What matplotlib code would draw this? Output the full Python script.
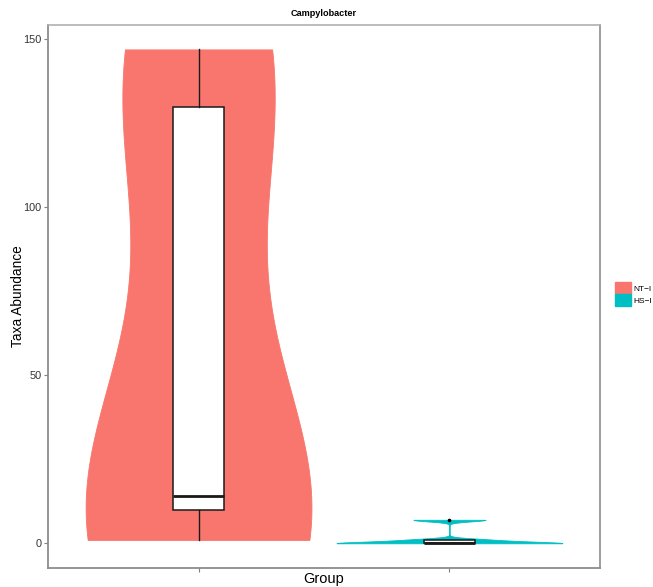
import numpy as np
import matplotlib
matplotlib.use("Agg")
import matplotlib.pyplot as plt
from matplotlib.patches import Patch

plt.rcParams["font.family"] = ["Liberation Sans", "DejaVu Sans"]

# Data
groups = ["NT-I", "HS-I"]
legend_labels = ["NT\u2212I", "HS\u2212I"]
colors = ["#F8766D", "#00BFC4"]
nt_values = [1, 10, 14, 130, 147]
hs_values = [0, 0, 0, 1, 7]
y_ticks = [0, 50, 100, 150]
title = "Campylobacter"


def bw_nrd0(x):
    x = np.asarray(x, float)
    sd = x.std(ddof=1)
    q1, q3 = np.percentile(x, [25, 75])
    iqr = (q3 - q1) / 1.34
    lo = min(sd, iqr) if iqr > 0 else sd
    return 0.9 * lo * len(x) ** -0.2


def kde(x, grid):
    x = np.asarray(x, float)
    bw = bw_nrd0(x)
    d = (grid[:, None] - x[None, :]) / bw
    return np.exp(-0.5 * d ** 2).sum(axis=1) / (len(x) * bw * np.sqrt(2 * np.pi))


W, H = 653, 587
fig = plt.figure(figsize=(W / 100, H / 100), dpi=100)
ax = fig.add_axes([48 / W, (H - 568) / H, (600 - 48) / W, (568 - 24.7) / H])

series = [nt_values, hs_values]
positions = [1, 2]

# Violins (trimmed, each scaled to the same maximum width)
for pos, vals, col in zip(positions, series, colors):
    grid = np.linspace(min(vals), max(vals), 512)
    dens = kde(vals, grid)
    half = 0.45 * dens / dens.max()
    ax.fill_betweenx(grid, pos - half, pos + half, facecolor=col,
                     edgecolor=col, linewidth=0.6, zorder=1)

# Boxplots on top
ax.boxplot(series, positions=positions, widths=0.2, patch_artist=True,
           whis=1.5, manage_ticks=False,
           boxprops=dict(facecolor="white", edgecolor="#1a1a1a", linewidth=1.1),
           medianprops=dict(color="#1a1a1a", linewidth=2.0),
           whiskerprops=dict(color="#1a1a1a", linewidth=1.0),
           capprops=dict(linewidth=0),
           flierprops=dict(marker="o", markersize=1.6, markerfacecolor="black",
                           markeredgecolor="black"),
           zorder=3)

ax.set_xlim(0.4, 2.6)
ax.set_ylim(-7.35, 154.35)
ax.set_xticks(positions)
ax.set_xticklabels(["", ""])
ax.set_yticks(y_ticks)
ax.set_yticklabels([str(t) for t in y_ticks], fontsize=7.8, color="#333333")
ax.tick_params(axis="both", length=3, width=0.8, color="#7f7f7f", pad=1.5)

for side, col, lw in [("left", "#8c8c8c", 1.3), ("bottom", "#8c8c8c", 1.3),
                      ("top", "#b0b0b0", 1.2), ("right", "#8c8c8c", 1.2)]:
    ax.spines[side].set_color(col)
    ax.spines[side].set_linewidth(lw)

ax.set_title(title, fontsize=6.6, fontweight="bold", pad=6)
ax.set_ylabel("Taxa Abundance", fontsize=9.8)
ax.yaxis.set_label_coords(-0.0417, 0.5)
ax.set_xlabel("Group", fontsize=10.5)
ax.xaxis.set_label_coords(0.5, -0.008)

handles = [Patch(facecolor=c, edgecolor=c) for c in colors]
fig.legend(handles, legend_labels, loc="upper left",
           bbox_to_anchor=(615 / W, (H - 282) / H), frameon=False,
           fontsize=6, handlelength=1.9, handleheight=1.85, handletextpad=0.3,
           labelspacing=0.0, borderpad=0, borderaxespad=0)

fig.savefig("out.png", dpi=100, facecolor="white")
